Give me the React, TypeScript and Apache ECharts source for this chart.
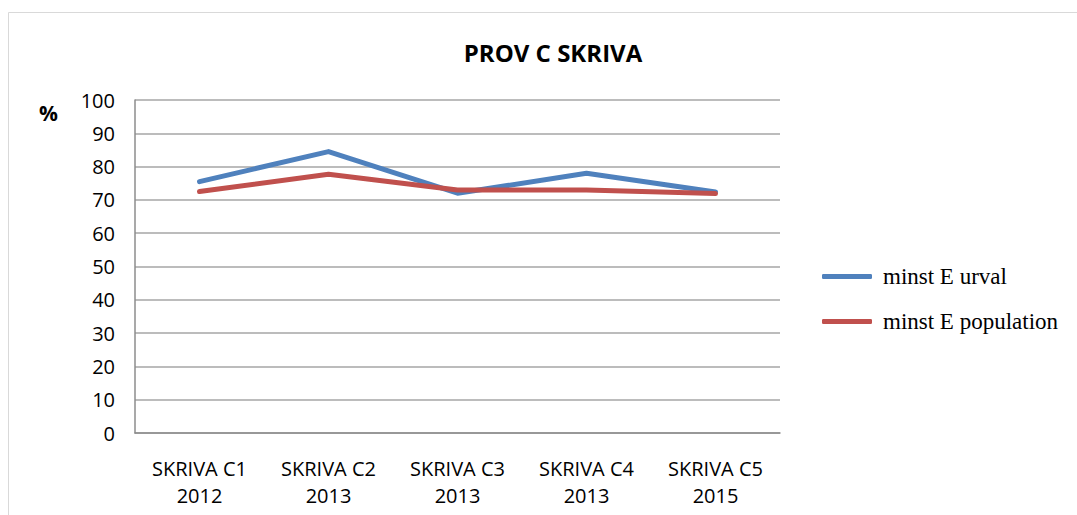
import React, { useEffect, useRef } from "react";
import * as echarts from "echarts";

const categories = ["SKRIVA C1\n2012", "SKRIVA C2\n2013", "SKRIVA C3\n2013", "SKRIVA C4\n2013", "SKRIVA C5\n2015"];
const urval = [75.5, 84.5, 72, 78, 72.4];
const population = [72.5, 77.7, 73, 73, 71.9];
const yTicks = [0, 10, 20, 30, 40, 50, 60, 70, 80, 90, 100];

export default function App() {
  const ref = useRef<HTMLDivElement>(null);
  useEffect(() => {
    const chart = echarts.init(ref.current!, null, { renderer: "svg" });
    chart.setOption({
      animation: false,
      backgroundColor: "#ffffff",
      title: {
        text: "PROV C SKRIVA",
        left: 548,
        textAlign: "center",
        top: 35,
        textStyle: { fontFamily: "Open Sans", fontWeight: "bold", fontSize: 24, color: "#000" },
      },
      graphic: [
        { type: "rect", shape: { x: 8.5, y: 12.5, width: 1200, height: 700 }, style: { fill: "none", stroke: "#D9D9D9", lineWidth: 1 } },
        { type: "text", x: 39, y: 102, style: { text: "%", font: "bold 21px 'Open Sans'", fill: "#000" } },
      ],
      legend: {
        left: 817,
        top: 260,
        orient: "vertical",
        itemWidth: 50,
        itemHeight: 5,
        itemGap: 22,
        icon: "roundRect",
        textStyle: { fontFamily: "Liberation Serif", fontSize: 23, color: "#000", padding: [0, 0, 0, 6] },
        data: ["minst E urval", "minst E population"],
      },
      grid: { left: 135, right: 297, top: 100, bottom: 82, containLabel: false },
      xAxis: {
        type: "category",
        data: categories,
        boundaryGap: true,
        axisLine: { lineStyle: { color: "#8C8C8C", width: 1.5 } },
        axisTick: { show: false },
        axisLabel: { fontFamily: "Open Sans", fontSize: 20, color: "#000", margin: 22, lineHeight: 27, interval: 0 },
      },
      yAxis: {
        type: "value",
        min: yTicks[0],
        max: yTicks[yTicks.length - 1],
        interval: 10,
        axisLine: { show: true, lineStyle: { color: "#8C8C8C", width: 1.5 } },
        axisTick: { show: false },
        splitLine: { lineStyle: { color: "#A6A6A6", width: 1.5 } },
        axisLabel: { fontFamily: "Open Sans", fontSize: 20, color: "#000", margin: 20 },
      },
      series: [
        {
          name: "minst E urval",
          type: "line",
          data: urval,
          symbol: "none",
          lineStyle: { color: "#4F81BD", width: 5, cap: "round", join: "round" },
          itemStyle: { color: "#4F81BD" },
        },
        {
          name: "minst E population",
          type: "line",
          data: population,
          symbol: "none",
          lineStyle: { color: "#C0504D", width: 5, cap: "round", join: "round" },
          itemStyle: { color: "#C0504D" },
        },
      ],
    });
    return () => chart.dispose();
  }, []);
  return <div ref={ref} style={{ position: "fixed", left: 0, top: 0, width: 1077, height: 515 }} />;
}
